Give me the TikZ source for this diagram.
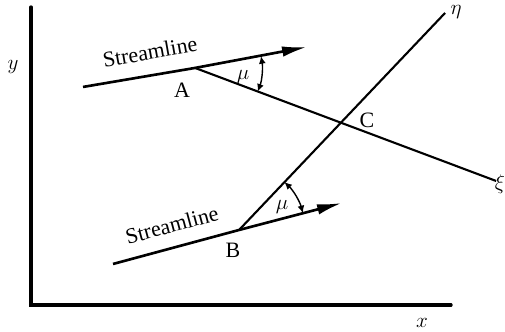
\documentclass[tikz,border=0pt]{standalone}
\usepackage{fontspec}
\setmainfont{Liberation Serif}
\usepackage{tikz}
\usetikzlibrary{arrows.meta,calc,intersections}

\begin{document}
\begin{tikzpicture}[scale=0.02,
    axis/.style={line width=1.8pt,line cap=round},
    streamline/.style={line width=1.5pt,-{Latex[length=5mm,width=2.1mm]}},
    machline/.style={line width=1.2pt},
    anglearc/.style={line width=0.8pt,{Latex[length=1.5mm,width=1.4mm]}-{Latex[length=1.5mm,width=1.4mm]}},
    lbl/.style={font=\fontsize{12.5}{14}\selectfont,inner sep=1pt}]
    \useasboundingbox (0,0) rectangle (505,332);
    % axes
    \coordinate (O) at (31,27);
    \coordinate (ytop) at (31,325);
    \coordinate (xend) at (451,27);
    \draw[axis] (ytop) -- (O) -- (xend);
    \node[lbl] (ylab) at (13,265) {$y$};
    \node[lbl] (xlab) at (422,9) {$x$};
    % points and line ends
    \coordinate (A) at (195,264);
    \coordinate (B) at (239,102);
    \coordinate (SAs) at (83,245);
    \coordinate (SAe) at (307,285);
    \coordinate (SBs) at (113,68);
    \coordinate (SBe) at (342,129);
    \coordinate (xi) at (496,151);
    \coordinate (eta) at (445,319);
    % characteristics
    \draw[machline,name path=xiline] (A) -- (xi);
    \draw[machline,name path=etaline] (B) -- (eta);
    \path[name intersections={of=xiline and etaline,by=C}];
    \node[lbl] (xilab) at (500,148) {$\xi$};
    \node[lbl] (etalab) at (456,320) {$\eta$};
    % streamlines
    \draw[streamline] (SAs) -- (A) -- (SAe);
    \draw[streamline] (SBs) -- (B) -- (SBe);
    \node[lbl,rotate=10] (stA) at (150,280) {Streamline};
    \node[lbl,rotate=15] (stB) at (172,107) {Streamline};
    \node[lbl] (Alab) at (182,242) {A};
    \node[lbl] (Blab) at (233,82) {B};
    \node[lbl] (Clab) at (367,212) {C};
    % Mach angles
    \draw[anglearc] ([shift={(-20.6:67)}]A) arc[start angle=-20.6,end angle=10.1,radius=67];
    \draw[anglearc] ([shift={(46.6:66)}]B) arc[start angle=46.6,end angle=14.8,radius=66];
    \node[lbl] (muA) at (243,255) {$\mu$};
    \node[lbl] (muB) at (282,125) {$\mu$};
\end{tikzpicture}
\end{document}
